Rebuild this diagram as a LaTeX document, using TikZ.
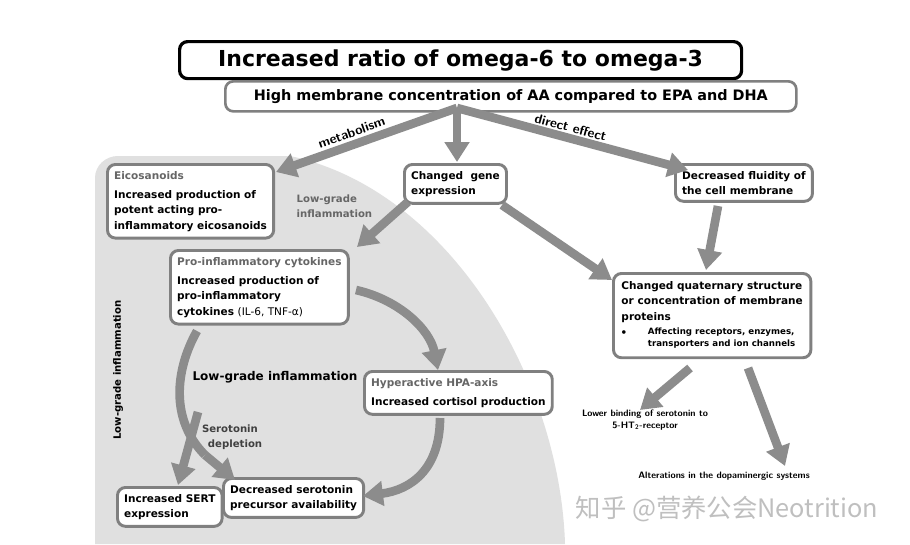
\documentclass[tikz,border=0pt]{standalone}
\usepackage{fontspec}
\setmainfont{DejaVu Sans}
\newfontfamily\cjk{Noto Sans CJK SC}
\usetikzlibrary{arrows.meta}
\definecolor{ag}{HTML}{8C8C8C}
\definecolor{bg}{HTML}{E0E0E0}
\definecolor{bd}{HTML}{808080}
\begin{document}
\begin{tikzpicture}[x=0.75pt,y=-0.75pt,
  box/.style={draw=bd,line width=2.2pt,rounded corners=6pt,fill=white,align=left,anchor=north west,inner sep=5pt,font=\fontsize{7.9}{11.5}\selectfont\bfseries,text=black},
  fat/.style={draw=ag,line width=6.5pt,-{Triangle[length=15pt,width=18pt]}},
  lbl/.style={font=\fontsize{7.6}{11}\selectfont\bfseries,align=center}]
\useasboundingbox (0,0) rectangle (910,544);
\fill[white] (0,0) rectangle (910,544);
\fill[bg] (95,544) -- (95,178) to[out=90,in=180] (118,156) -- (290,156) .. controls (450,190) and (560,380) .. (565,544) -- cycle;
% boxes
\node[box,draw=black,line width=2.4pt,font=\fontsize{16.5}{20}\selectfont\bfseries,minimum width=562*0.75pt,minimum height=37*0.75pt,align=center,inner sep=3pt] (t) at (178,40) {Increased ratio of omega-6 to omega-3};
\node[box,font=\fontsize{10.8}{13}\selectfont\bfseries,minimum width=571*0.75pt,minimum height=30*0.75pt,align=center,inner sep=2pt,line width=2pt] (s) at (224,80) {High membrane concentration of AA compared to EPA and DHA};
\node[box] (e) at (106,163) {\textcolor{black!60}{Eicosanoids}\\[3pt]Increased production of\\potent acting pro-\\inflammatory eicosanoids};
\node[box] (g) at (403,163) {Changed\ \ gene\\expression};
\node[box] (f) at (674,163) {Decreased fluidity of\\the cell membrane};
\node[box] (p) at (169,249) {\textcolor{black!60}{Pro-inflammatory cytokines}\\[3pt]Increased production of\\pro-inflammatory\\cytokines {\mdseries (IL-6, TNF-α)}};
\node[box,inner sep=6pt] (q) at (612,272) {Changed quaternary structure\\or concentration of membrane\\proteins\\[-1pt]{\fontsize{6.5}{9}\selectfont $\bullet$\hspace{16pt}\begin{tabular}[t]{@{}l@{}}Affecting receptors, enzymes,\\transporters and ion channels\end{tabular}}};
\node[box,minimum width=187*0.75pt] (h) at (363,370) {\textcolor{black!60}{Hyperactive HPA-axis}\\[3pt]Increased cortisol production};
\node[box] (sert) at (116,486) {Increased SERT\\expression};
\node[box] (d) at (222,477) {Decreased serotonin\\precursor availability};
% labels
\node[font=\fontsize{7}{8.5}\selectfont\sffamily\bfseries,align=center] (lb) at (645,420) {Lower binding of serotonin to\\5-HT\textsubscript{2}-receptor};
\node[font=\fontsize{7}{8.5}\selectfont\sffamily\bfseries] (al) at (724,476) {Alterations in the dopaminergic systems};
\node[lbl,rotate=90] (l1) at (118,370) {Low-grade inflammation};
\node[lbl,text=black!60,align=left,anchor=west] (l2) at (292,206) {Low-grade\\inflammation};
\node[lbl,font=\fontsize{9}{11}\selectfont\bfseries] (l3) at (275,377) {Low-grade inflammation};
\node[lbl,text=black!75] (l4) at (230,437) {Serotonin\\\quad depletion};
% arrows
\coordinate (o) at (457,108);
\draw[fat] (o) -- (276,172) node[pos=0.56,sloped,above=-1pt,font=\fontsize{10}{12}\selectfont\sffamily\bfseries] {metabolism};
\draw[fat] (o) -- (457,162);
\draw[fat] (o) -- (688,170) node[pos=0.48,sloped,above=-2pt,font=\fontsize{10}{12}\selectfont\sffamily\bfseries] {direct effect};
\draw[fat] (g.south west) ++(5,-3) -- (357,247);
\draw[fat] (502,205) -- (612,280);
\draw[fat] (718,206) -- (706,270);
\draw[fat] (356,290) .. controls (400,300) and (430,330) .. (438,370);
\draw[draw=ag,line width=6.5pt] (197,331) .. controls (175,370) and (170,420) .. (205,455);
\draw[fat] (205,455) -- (235,480);
\draw[fat] (198,412) -- (178,485);
\draw[fat] (440,418) .. controls (440,470) and (410,490) .. (363,496);
\draw[fat] (690,368) -- (640,410);
\draw[fat] (748,368) -- (785,466);
\node[font=\cjk\fontsize{19}{22}\selectfont,text=black!25] (wm) at (727,509) {知乎 @营养公会Neotrition};
\end{tikzpicture}
\end{document}
